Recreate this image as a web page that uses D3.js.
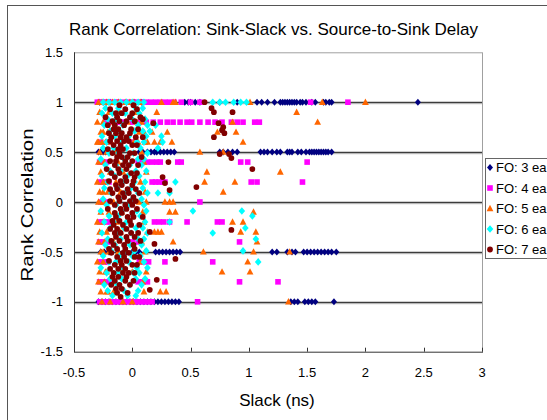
<!DOCTYPE html>
<html><head><meta charset="utf-8">
<script src="https://cdn.jsdelivr.net/npm/d3@7"></script>
<style>body{margin:0;background:#fff} svg{display:block} text{font-family:Arial,"Liberation Sans",sans-serif;fill:#000}</style>
</head><body><svg id="c" width="547" height="420"></svg>
<script>
const titleText = "Rank Correlation: Sink-Slack vs. Source-to-Sink Delay";
const xTitle = "Slack (ns)";
const yTitle = "Rank Correlation";
const seriesNames = ["FO: 3 ea","FO: 4 ea","FO: 5 ea","FO: 6 ea","FO: 7 ea"];
const seriesColors = ["#000080","#ff00ff","#ff6600","#00ffff","#800000"];
const xTicks = [-0.5,0,0.5,1,1.5,2,2.5,3];
const xTickLabels = ["-0.5","0","0.5","1","1.5","2","2.5","3"];
const yTicks = [1.5,1,0.5,0,-0.5,-1,-1.5];
const yTickLabels = ["1.5","1","0.5","0","-0.5","-1","-1.5"];
const yGrid = [1,0.5,0,-0.5,-1];

// rows: [y, [x values]]
const fo3 = [
 [1, [-0.28,-0.25,-0.22,-0.19,-0.12,-0.05,0.02,0.08,0.45,0.48,0.5,0.54,0.58,0.75,0.9,1.07,1.11,1.16,1.22,1.27,1.29,1.31,1.33,1.35,1.37,1.39,1.41,1.44,1.46,1.49,1.54,1.57,1.64,1.66,1.69,1.71,2.45]],
 [0.5, [-0.29,-0.27,-0.25,-0.23,-0.2,-0.15,0.06,0.09,0.13,0.16,0.19,0.21,0.24,0.27,0.3,0.33,0.36,0.75,0.78,0.82,0.86,0.9,1.1,1.13,1.16,1.2,1.24,1.27,1.33,1.35,1.37,1.42,1.45,1.49,1.52,1.54,1.56,1.58,1.6,1.62,1.64,1.66,1.68,1.71]],
 [-0.5, [-0.27,-0.24,-0.2,-0.12,-0.05,0.0,0.03,0.06,0.2,0.23,0.26,0.29,0.32,0.35,0.38,0.41,1.2,1.24,1.33,1.37,1.4,1.47,1.5,1.53,1.56,1.59,1.62,1.65,1.68,1.71,1.75]],
 [-1, [-0.29,-0.26,-0.23,-0.2,-0.17,-0.14,-0.11,-0.08,-0.05,-0.02,0.01,0.04,0.07,0.1,0.13,0.16,0.19,0.22,0.25,0.28,0.31,0.34,0.37,0.4,1.36,1.39,1.42,1.48,1.51,1.54,1.57,1.73]]
];
const fo4 = [
 [1, [-0.3,-0.28,-0.25,-0.22,-0.19,-0.15,-0.12,-0.08,-0.04,0.0,0.04,0.08,0.12,0.16,0.2,0.24,0.28,0.32,0.36,0.42,0.5,0.58,1.53,1.85]],
 [0.8, [-0.22,-0.18,-0.14,-0.1,-0.06,0.0,0.06,0.12,0.18,0.24,0.3,0.35,0.41,0.47,0.51,0.58,0.65,0.71,0.77,0.85,0.9,0.95,1.05,1.09]],
 [0.6, [-0.27,-0.2,0.0]],
 [0.4, [-0.28,-0.25,-0.22,0.05,0.09,0.13,0.17,0.21,0.24,0.39,0.42,0.93,0.99,1.5]],
 [0.2, [-0.27,-0.24,-0.2,0.17,0.2,0.23,0.26,0.28,1.02,1.07,1.46]],
 [0, [-0.27,-0.22,0.58]],
 [-0.2, [-0.28,-0.25,-0.22,-0.19,0.19,0.23,0.27,0.32,0.47,0.73,0.77]],
 [-0.4, [-0.28,-0.25,-0.22,-0.18,0.0,0.05,0.92]],
 [-0.6, [-0.27,-0.24,-0.21,0.06,0.1,0.14,0.28,0.69]],
 [-0.8, [-0.28,-0.25,-0.22,-0.19,0.05,0.09,0.13,0.28,0.92,1.25]],
 [-1, [-0.28,-0.25,-0.22,-0.19,-0.16,-0.13,-0.1,-0.07,-0.04,-0.01,0.02,0.05,0.08,0.11,0.14,0.17,0.56]]
];
const fo5 = [
 [1, [-0.29,-0.26,-0.22,-0.17,-0.12,-0.06,-0.02,0.01,0.07,0.25,0.35,0.37,1.01,1.63,2.0]],
 [0.9, [-0.28,-0.2,-0.18,-0.11,-0.07,0.04,0.21,1.41]],
 [0.8, [-0.3,-0.25,-0.16,-0.04,0.04,0.08,0.86,1.59]],
 [0.7, [-0.27,-0.25,-0.21,-0.13,0.06,0.1,0.17,0.3,0.73,0.89]],
 [0.6, [-0.3,-0.29,-0.26,-0.23,-0.18,0.01,0.05,0.11,0.13,0.19,0.24,0.34,0.95]],
 [0.5, [-0.28,-0.22,-0.15,0.08,0.58,0.78]],
 [0.4, [-0.29,-0.24,-0.12,0.1]],
 [0.3, [-0.27,-0.19,-0.08,0.12,0.64,1.27]],
 [0.2, [-0.3,-0.25,-0.22,-0.14,0.07,0.62,0.88]],
 [0.1, [-0.28,-0.25,-0.21,-0.1,0.11,0.78]],
 [0, [-0.29,-0.25,-0.24,-0.16,0.06,0.12,0.28,0.32,0.35]],
 [-0.1, [-0.27,-0.2,-0.09,0.09,0.32,0.37,1.04]],
 [-0.2, [-0.3,-0.25,-0.13,0.1,0.86,0.95]],
 [-0.3, [-0.28,-0.22,-0.1,0.13,0.19,0.22,0.25,0.93,1.06]],
 [-0.4, [-0.29,-0.24,-0.16,0.08,0.35,1.07]],
 [-0.5, [-0.27,-0.25,-0.2,-0.12,0.11,0.61,1.04,1.35]],
 [-0.6, [-0.3,-0.25,-0.14,0.07,0.99]],
 [-0.7, [-0.28,-0.23,-0.22,-0.09,0.0,0.12,0.77,1.01]],
 [-0.8, [-0.29,-0.24,-0.16,0.09]],
 [-0.9, [-0.27,-0.22,-0.21,-0.16,-0.15,0.1,0.24,0.29]],
 [-1, [-0.26,-0.19,-0.08,0.0,1.34]]
];
const fo6 = [
 [1, [-0.25,-0.2,-0.15,-0.1,-0.05,0.0,0.05,0.1,0.69,0.75,0.8,0.87,0.93,0.98]],
 [0.94, [-0.23,-0.12,0.03,0.09]],
 [0.89, [-0.26,-0.17,-0.06,0.06]],
 [0.83, [-0.21,-0.14,0.0,0.11]],
 [0.77, [-0.24,-0.08,0.05,0.13,0.2]],
 [0.71, [-0.19,-0.11,0.02,0.09,0.15]],
 [0.66, [-0.26,-0.15,-0.03,0.12,0.25]],
 [0.6, [-0.22,-0.09,0.04,0.1,0.26]],
 [0.54, [-0.25,-0.16,-0.05,0.07,0.22]],
 [0.49, [-0.2,-0.12,0.01,0.13]],
 [0.43, [-0.27,-0.07,0.05,0.1]],
 [0.37, [-0.23,-0.14,-0.02,0.08]],
 [0.31, [-0.19,-0.1,0.03,0.12]],
 [0.26, [-0.26,-0.15,-0.04,0.06]],
 [0.2, [-0.21,-0.08,0.02,0.11,0.37]],
 [0.14, [-0.24,-0.13,-0.01,0.09]],
 [0.09, [-0.18,-0.06,0.05,0.13,0.22,0.32]],
 [0.03, [-0.25,-0.11,0.0,0.08]],
 [-0.03, [-0.22,-0.14,-0.03,0.1]],
 [-0.09, [-0.27,-0.09,0.04,0.12,0.52,0.94]],
 [-0.14, [-0.2,-0.12,0.01,0.07,1.03]],
 [-0.2, [-0.24,-0.16,-0.05,0.11,0.32]],
 [-0.26, [-0.19,-0.07,0.03,0.09,0.97]],
 [-0.31, [-0.26,-0.13,-0.01,0.13,0.69]],
 [-0.37, [-0.21,-0.1,0.05,0.1,1.06]],
 [-0.43, [-0.23,-0.15,-0.02,0.08]],
 [-0.49, [-0.18,-0.06,0.02,0.12,0.95]],
 [-0.54, [-0.25,-0.11,0.0,0.07]],
 [-0.6, [-0.2,-0.14,-0.03,0.1,1.08]],
 [-0.66, [-0.27,-0.08,0.04,0.13]],
 [-0.71, [-0.22,-0.12,0.01,0.06]],
 [-0.77, [-0.19,-0.09,0.03,0.11]],
 [-0.83, [-0.24,-0.13,-0.02,0.08]],
 [-0.89, [-0.21,-0.07,0.05]],
 [-0.94, [-0.17,-0.04,0.03]]
];
const fo7 = [
 [1, [0.62]], [0.97, [-0.11,0.01]], [0.94, [0.68]], [0.93, [-0.19,-0.06,0.04]],
 [0.9, [0.7,0.86]], [0.89, [-0.14,-0.09,0.0]], [0.85, [-0.23,-0.13,-0.02,0.07]],
 [0.83, [0.09]], [0.81, [-0.17,-0.11,-0.05,0.02]], [0.79, [0.18,0.74]],
 [0.77, [-0.21,-0.15,-0.07]], [0.75, [0.78]], [0.73, [-0.16,-0.12,-0.01,0.05]],
 [0.72, [0.77]], [0.69, [-0.2,-0.14,-0.09,-0.02,0.79]], [0.65, [-0.18,-0.1,-0.05,0.03,0.09,0.7]],
 [0.61, [-0.19,-0.13,-0.07,-0.03]], [0.57, [-0.16,-0.1,0.0,0.04]], [0.53, [-0.21,-0.12,-0.08]],
 [0.49, [-0.17,-0.11,-0.02,0.02]], [0.48, [0.75,0.83]], [0.45, [-0.13,-0.09,-0.04,0.08]], [0.44, [0.85]],
 [0.41, [-0.19,-0.14,-0.06,0.0]], [0.4, [0.31]], [0.37, [-0.15,-0.08,-0.03,0.05]],
 [0.33, [-0.22,-0.12,-0.05,1.03]], [0.29, [-0.18,-0.11,-0.01,0.04]], [0.25, [-0.15,-0.06,0.02,0.26]],
 [0.21, [-0.2,-0.1,-0.05,0.01]], [0.19, [0.28]], [0.17, [-0.14,-0.09,0.0]], [0.15, [0.55]],
 [0.13, [-0.19,-0.13,-0.04,0.03]], [0.12, [0.32]], [0.09, [-0.17,-0.08,-0.03,0.06]],
 [0.05, [-0.12,-0.07,0.01]], [0.01, [-0.19,-0.11,-0.02,0.03]], [-0.03, [-0.15,-0.06,0.0]],
 [-0.07, [-0.21,-0.1,-0.05,0.04]], [-0.11, [-0.15,-0.09,0.0]], [-0.15, [-0.14,-0.04,0.01,0.09]],
 [-0.19, [-0.17,-0.11,-0.02]], [-0.23, [-0.16,-0.08,-0.01,0.06]], [-0.27, [-0.19,-0.13,-0.05]],
 [-0.28, [0.85]], [-0.3, [0.15]], [-0.31, [-0.15,-0.1,-0.01,0.05]], [-0.35, [-0.14,-0.05,0.02]],
 [-0.39, [-0.18,-0.11,-0.04,0.07]], [-0.42, [0.19]], [-0.43, [-0.16,-0.07,0.01]],
 [-0.47, [-0.2,-0.13,-0.06,0.02]], [-0.51, [-0.18,-0.08,-0.03]], [-0.55, [-0.13,-0.07,0.02,0.06]],
 [-0.57, [0.37]], [-0.59, [-0.2,-0.1,-0.05]], [-0.63, [-0.15,-0.09,0.0,0.04]],
 [-0.67, [-0.19,-0.12,-0.06]], [-0.71, [-0.16,-0.08,-0.03,0.02]], [-0.75, [-0.17,-0.12,-0.05]],
 [-0.78, [0.21]], [-0.79, [-0.15,-0.06,0.01]], [-0.83, [-0.18,-0.11,-0.02]], [-0.87, [-0.14,-0.09]],
 [-0.88, [0.15]], [-0.91, [-0.13,-0.04]], [-0.95, [-0.1]]
];
const allSeries = [fo3, fo4, fo5, fo6, fo7];

const shapes = [
  "M0,-3.5L3,0L0,3.5L-3,0Z",
  "M-2.8,-2.8H2.8V2.8H-2.8Z",
  "M0,-3.7L3.4,2.7L-3.4,2.7Z",
  "M0,-3.8L3.3,0L0,3.8L-3.3,0Z",
  d3.symbol(d3.symbolCircle, 26)()
];

const svg = d3.select("#c");
const x = d3.scaleLinear().domain([-0.5, 3]).range([74, 482]);
const y = d3.scaleLinear().domain([-1.5, 1.5]).range([351.7, 52.3]);

// outer chart border
svg.append("rect").attr("x",7.5).attr("y",5.5).attr("width",700).attr("height",600)
  .attr("fill","#fff").attr("stroke","#555").attr("stroke-width",1);

// plot area borders
svg.append("line").attr("x1",x(-0.5)).attr("x2",x(3)).attr("y1",y(1.5)+0.5).attr("y2",y(1.5)+0.5)
  .attr("stroke","#a0a0a0");
svg.append("line").attr("x1",x(3)+0.5).attr("x2",x(3)+0.5).attr("y1",y(1.5)).attr("y2",y(-1.5))
  .attr("stroke","#a0a0a0");

// gridlines
const g = svg.append("g");
yGrid.forEach(v => {
  const yy = Math.round(y(v));
  g.append("line").attr("x1",x(-0.5)).attr("x2",x(3)).attr("y1",yy+0.5).attr("y2",yy+0.5)
    .attr("stroke","#3c3c3c").attr("stroke-width",1.3);
  g.append("line").attr("x1",x(-0.5)).attr("x2",x(3)).attr("y1",yy+1.7).attr("y2",yy+1.7)
    .attr("stroke","#b0b0b0").attr("stroke-width",1);
});

// axes
svg.append("line").attr("x1",x(-0.5)+0.5).attr("x2",x(-0.5)+0.5).attr("y1",y(1.5)).attr("y2",y(-1.5)+0.5)
  .attr("stroke","#333");
svg.append("line").attr("x1",x(-0.5)).attr("x2",x(3)+1).attr("y1",y(-1.5)+0.5).attr("y2",y(-1.5)+0.5)
  .attr("stroke","#333");
xTicks.forEach(v => {
  svg.append("line").attr("x1",Math.round(x(v))+0.5).attr("x2",Math.round(x(v))+0.5)
    .attr("y1",y(-1.5)).attr("y2",y(-1.5)-4).attr("stroke","#333");
});

// tick labels
xTicks.forEach((v,i) => {
  svg.append("text").attr("x",x(v)).attr("y",377).attr("text-anchor","middle")
    .attr("font-size",13).text(xTickLabels[i]);
});
yTicks.forEach((v,i) => {
  svg.append("text").attr("x",63).attr("y",y(v)+4.6).attr("text-anchor","end")
    .attr("font-size",13).text(yTickLabels[i]);
});

// points
allSeries.forEach((rows, si) => {
  const pts = [];
  rows.forEach(r => r[1].forEach(xv => pts.push([xv, r[0]])));
  svg.append("g").selectAll("path").data(pts).enter().append("path")
    .attr("d", shapes[si])
    .attr("transform", d => `translate(${x(d[0])},${y(d[1])})`)
    .attr("fill", seriesColors[si]);
});

// titles
svg.append("text").attr("x",273.5).attr("y",35).attr("text-anchor","middle")
  .attr("font-size",17).text(titleText);
svg.append("text").attr("x",277).attr("y",406).attr("text-anchor","middle")
  .attr("font-size",17).text(xTitle);
svg.append("text").attr("transform","translate(33,205) rotate(-90)").attr("text-anchor","middle")
  .attr("font-size",17).attr("textLength",153).attr("lengthAdjust","spacingAndGlyphs").text(yTitle);

// legend
const lg = svg.append("g");
lg.append("rect").attr("x",485.5).attr("y",158.5).attr("width",100).attr("height",100)
  .attr("fill","#fff").attr("stroke","#666");
seriesNames.forEach((nm,i) => {
  const cy = 167.5 + i*20.5;
  lg.append("path").attr("d",shapes[i]).attr("transform",`translate(490,${cy})`)
    .attr("fill",seriesColors[i]);
  lg.append("text").attr("x",496).attr("y",cy+4.5).attr("font-size",13).text(nm);
});
</script></body></html>
